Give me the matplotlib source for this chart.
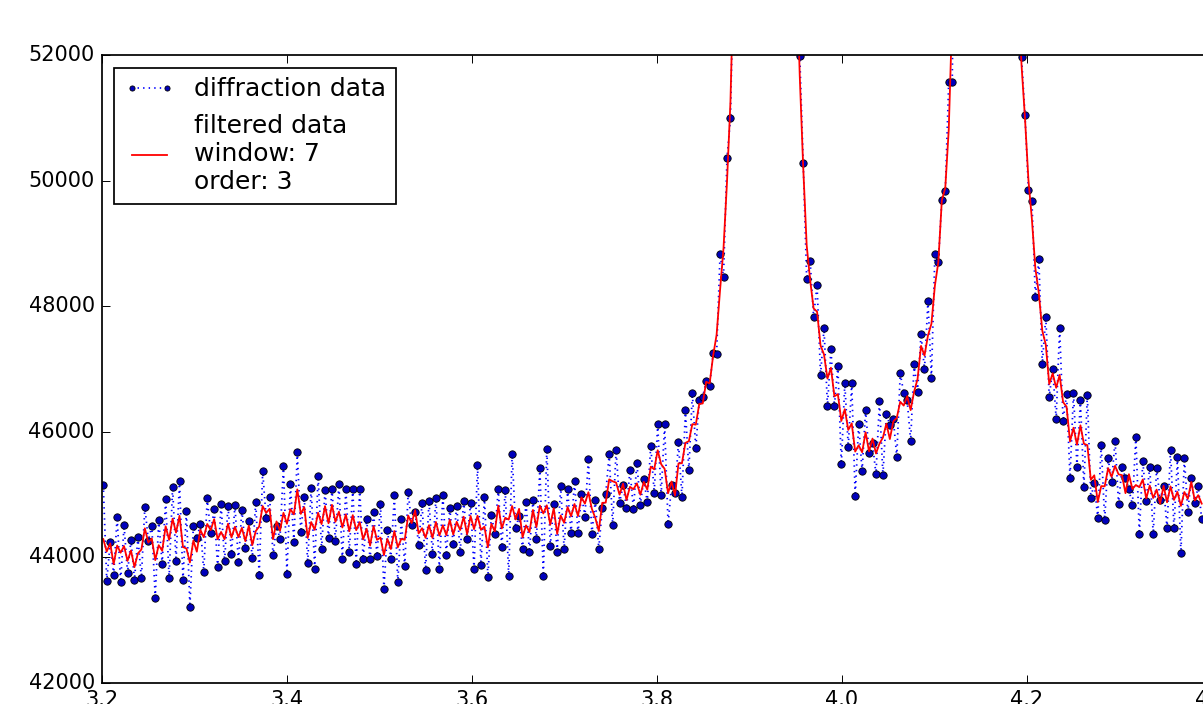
import numpy as np
import matplotlib
matplotlib.use("Agg")
import matplotlib.pyplot as plt

plt.style.use("classic")
plt.rcParams["font.family"] = ["DejaVu Sans"]

# ---- data ----
x_start = 3.2017
x_step = 0.003745

intensity = [
    45153, 43624, 44240, 43720, 44648, 43604, 44511, 43756, 44277, 43645,
    44320, 43672, 44807, 44266, 44500, 43358, 44595, 43895, 44925, 43667,
    45126, 43947, 45221, 43640, 44739, 43215, 44505, 44304, 44527, 43772,
    44941, 44393, 44771, 43842, 44850, 43938, 44823, 44059, 44829, 43922,
    44755, 44154, 44584, 43995, 44882, 43720, 45375, 44622, 44962, 44033,
    44500, 44298, 45460, 43741, 45169, 44250, 45673, 44404, 44962, 43906,
    45110, 43820, 45296, 44134, 45073, 44309, 45089, 44266, 45164, 43970,
    45084, 44091, 45084, 43895, 45089, 43975, 44611, 43975, 44723, 44022,
    44845, 43497, 44441, 43975, 44989, 43604, 44607, 43868, 45041, 44516,
    44728, 44197, 44866, 43799, 44893, 44054, 44946, 43815, 44998, 44033,
    44782, 44209, 44823, 44086, 44898, 44298, 44861, 43811, 45466, 43884,
    44966, 43693, 44675, 44377, 45089, 44161, 45073, 43704, 45651, 44463,
    44659, 44134, 44887, 44081, 44914, 44288, 45423, 43704, 45726, 44177,
    44845, 44091, 45141, 44134, 45084, 44384, 45221, 44384, 45005, 44648,
    45567, 44373, 44909, 44139, 44782, 45005, 45646, 44511, 45710, 44861,
    45148, 44782, 45391, 44771, 45498, 44839, 45248, 44877, 45778, 45030,
    46119, 44989, 46119, 44527, 45153, 45030, 45832, 44957, 46347, 45387,
    46612, 45737, 46506, 46558, 46808, 46733, 47249, 47238, 48830, 48469,
    50354, 50995,
    # first peak (above the visible range)
    53600, 56300, 60500, 66000, 74000, 85000, 100000, 118000, 132000, 135000,
    126000, 110000, 95000, 82000, 72000, 64500, 59000, 55800, 53700,
    51982, 50284, 48427, 48719, 47832, 48337, 46899, 47647, 46410, 47313,
    46410, 47047, 45482, 46772, 45762, 46772, 44977, 46124, 45375, 46347,
    45657, 45816, 45323, 46490, 45312, 46283, 46108, 46203, 45603, 46931,
    46622, 46500, 45858, 47074, 46638, 47557, 46995, 48082, 46861, 48830,
    48708, 49685, 49833, 51573, 51573,
    # second peak (above the visible range)
    56000, 61000, 67000, 75000, 86000, 100000, 118000, 135000, 145000, 140000,
    125000, 105000, 88000, 75000, 66000, 60000, 56500, 54500, 53000,
    51971, 51043, 49849, 49679, 48150, 48746, 47079, 47832, 46558, 46999,
    46208, 47657, 46171, 46601, 45269, 46622, 45444, 46506, 45126, 46590,
    44950, 45189, 44622, 45789, 44595, 45582, 45200, 45858, 44850, 45434,
    45269, 45084, 44834, 45922, 44373, 45535, 44898, 45444, 44373, 45418,
    44914, 45137, 44463, 45710, 44463, 45594, 44075, 45587, 44728, 45269,
    44861, 45137, 44607,
]

window_size = 7
poly_order = 3

x_ticks = [3.2, 3.4, 3.6, 3.8, 4.0, 4.2, 4.4]
y_ticks = [42000, 44000, 46000, 48000, 50000, 52000]


def savitzky_golay(y, window, order):
    half = (window - 1) // 2
    b = np.array([[k ** i for i in range(order + 1)]
                  for k in range(-half, half + 1)], dtype=float)
    m = np.linalg.pinv(b)[0]
    first = y[0] - np.abs(y[1:half + 1][::-1] - y[0])
    last = y[-1] + np.abs(y[-half - 1:-1][::-1] - y[-1])
    yy = np.concatenate((first, y, last))
    return np.convolve(m[::-1], yy, mode="valid")


y = np.array(intensity, dtype=float)
x = x_start + x_step * np.arange(len(y))
y_f = savitzky_golay(y, window_size, poly_order)

W, H = 1203, 704
fig = plt.figure(figsize=(W / 100, H / 100), dpi=100, facecolor="white")
ax = fig.add_axes([101.7 / W, (H - 683) / H, (1212 - 101.7) / W, (683 - 55) / H])
ax.set_facecolor("white")

ax.plot(x, y, linestyle=":", color="b", linewidth=1.25, marker="o",
        markersize=5.3, markerfacecolor="#0000bb", markeredgecolor="black",
        markeredgewidth=0.6, label="diffraction data")
ax.plot(x, y_f, color="r", linewidth=1.3,
        label="filtered data\nwindow: %d\norder: %d" % (window_size, poly_order))

ax.set_xlim(3.2, 4.4)
ax.set_ylim(42000, 52000)
ax.set_xticks(x_ticks)
ax.set_yticks(y_ticks)
ax.xaxis.set_major_formatter(matplotlib.ticker.FormatStrFormatter("%.1f"))
ax.yaxis.set_major_formatter(matplotlib.ticker.FormatStrFormatter("%d"))
ax.tick_params(axis="both", which="major", labelsize=15, direction="in",
               length=6, width=0.7, pad=5, top=True, right=True)
ax.tick_params(which="minor", length=0)
for s in ax.spines.values():
    s.set_linewidth(1.25)

leg = ax.legend(loc="upper left", fontsize=18, numpoints=2, markerscale=0.7,
                frameon=True, fancybox=False, borderaxespad=0.5)
leg.get_frame().set_edgecolor("black")
leg.get_frame().set_linewidth(1.25)

fig.savefig("out.png", dpi=100, facecolor="white")
